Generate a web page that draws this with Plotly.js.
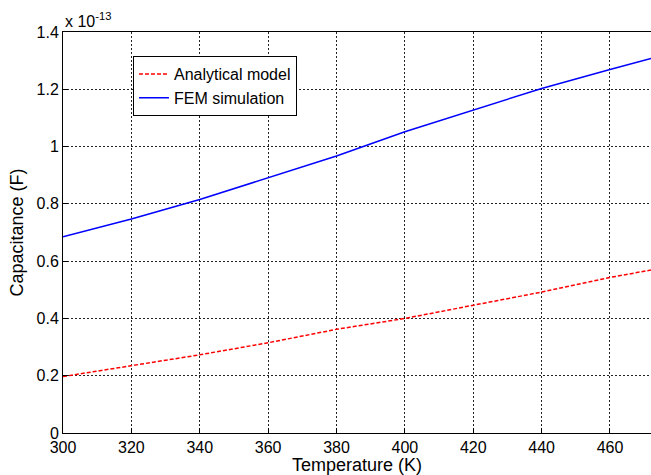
<!DOCTYPE html>
<html>
<head>
<meta charset="utf-8">
<script src="https://cdn.plot.ly/plotly-3.0.1.min.js"></script>
<style>html,body{margin:0;padding:0;background:#fff;}#chart{width:651px;height:475px;}</style>
</head>
<body>
<div id="chart"></div>
<script>
// Values in units of 1e-13 F
const temperature = [300, 320, 340, 360, 380, 400, 420, 430, 440, 460, 472];
const analytical = [0.197, 0.235, 0.273, 0.315, 0.362, 0.400, 0.446, 0.469, 0.492, 0.543, 0.569];
const fem = [0.685, 0.747, 0.815, 0.891, 0.967, 1.052, 1.127, 1.166, 1.203, 1.269, 1.308];
const xTicks = [300, 320, 340, 360, 380, 400, 420, 440, 460];
const yTicks = [0, 0.2, 0.4, 0.6, 0.8, 1, 1.2, 1.4];
const yTickLabels = ['0', '0.2', '0.4', '0.6', '0.8', '1', '1.2', '1.4'];
const seriesNames = ['Analytical model', 'FEM simulation'];

const font = 'Arial, "Liberation Sans", sans-serif';
const traces = [
  {x: temperature, y: analytical, name: seriesNames[0], mode: 'lines',
   line: {color: '#ff0000', width: 1.5, dash: '4px,2px'}},
  {x: temperature, y: fem, name: seriesNames[1], mode: 'lines',
   line: {color: '#0000ff', width: 1.5}}
];
const layout = {
  width: 651, height: 475,
  margin: {l: 63, r: 0, t: 32, b: 42},
  paper_bgcolor: '#fff', plot_bgcolor: '#fff',
  font: {family: font, size: 16, color: '#000'},
  showlegend: true,
  legend: {x: 0.119, y: 0.94, xanchor: 'left', yanchor: 'top',
    bgcolor: '#fff', bordercolor: '#000', borderwidth: 1,
    font: {family: font, size: 16, color: '#000'}, itemwidth: 30,
    tracegroupgap: 0},
  xaxis: {range: [300, 472], tickvals: xTicks, showgrid: true,
    gridcolor: '#222', griddash: '2px,2px', gridwidth: 1,
    showline: true, linecolor: '#000', linewidth: 1, mirror: true,
    ticks: 'inside', ticklen: 5, tickcolor: '#000', zeroline: false,
    tickfont: {family: font, size: 16},
    title: {text: 'Temperature (K)', font: {family: font, size: 18}, standoff: 6}},
  yaxis: {range: [0, 1.4], tickvals: yTicks, ticktext: yTickLabels, showgrid: true,
    gridcolor: '#222', griddash: '2px,2px', gridwidth: 1,
    showline: true, linecolor: '#000', linewidth: 1, mirror: false,
    ticks: 'inside', ticklen: 5, tickcolor: '#000', zeroline: false,
    tickfont: {family: font, size: 16},
    title: {text: 'Capacitance (F)', font: {family: font, size: 18}, standoff: 8}},
  annotations: [{xref: 'paper', yref: 'paper', x: 0, y: 1, xanchor: 'left', yanchor: 'bottom',
    showarrow: false, text: 'x 10<sup>-13</sup>',
    font: {family: font, size: 16, color: '#000'}}]
};
Plotly.newPlot('chart', traces, layout, {displayModeBar: false, staticPlot: true});
</script>
</body>
</html>
